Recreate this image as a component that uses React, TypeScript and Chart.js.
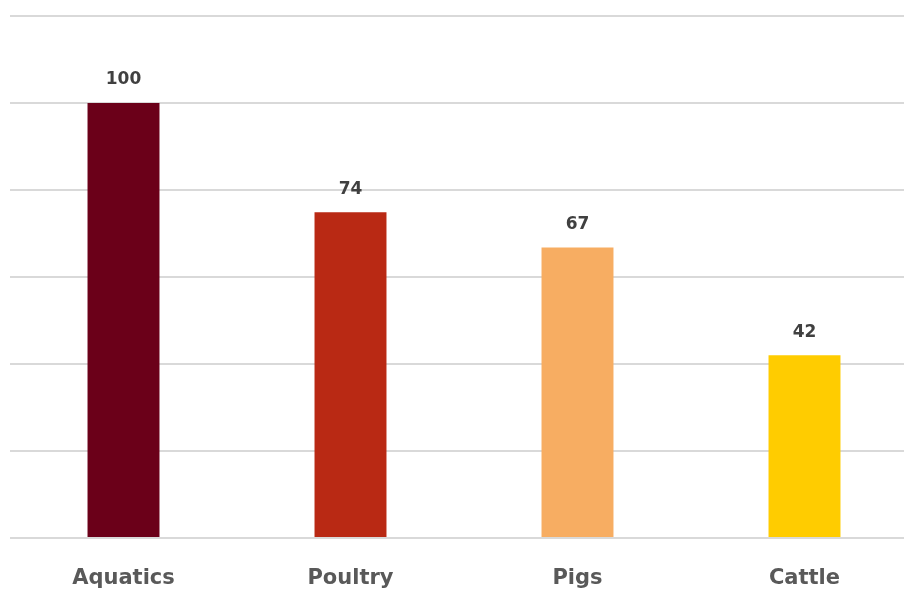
import React, { useEffect, useRef } from "react";
import { Chart, registerables } from "chart.js";

Chart.register(...registerables);

const categories = ["Aquatics", "Poultry", "Pigs", "Cattle"];
const values = [100, 74.9, 66.8, 42];
const valueLabels = ["100", "74", "67", "42"];
const barColors = ["#6b0019", "#b92914", "#f7ad62", "#ffcc00"];
const yTicks = [0, 20, 40, 60, 80, 100, 120];

const valueLabelPlugin = {
  id: "valueLabels",
  afterDatasetsDraw(chart: any) {
    const ctx = chart.ctx;
    const meta = chart.getDatasetMeta(0);
    ctx.save();
    ctx.fillStyle = "#404040";
    ctx.font = "bold 17px 'DejaVu Sans'";
    ctx.textAlign = "center";
    ctx.textBaseline = "middle";
    meta.data.forEach((bar: any, i: number) => {
      ctx.fillText(valueLabels[i], bar.x, bar.y - 23);
    });
    ctx.restore();
  },
};

export default function App() {
  const ref = useRef<HTMLCanvasElement>(null);
  useEffect(() => {
    if (!ref.current) return;
    const chart = new Chart(ref.current, {
      type: "bar",
      data: {
        labels: categories,
        datasets: [
          {
            data: values,
            backgroundColor: barColors,
            borderWidth: 0,
            barPercentage: 0.317,
            categoryPercentage: 1,
          },
        ],
      },
      options: {
        animation: false,
        responsive: false,
        maintainAspectRatio: false,
        layout: { padding: { left: 10, right: 0, top: 16, bottom: 0 } },
        plugins: { legend: { display: false }, tooltip: { enabled: false } },
        scales: {
          x: {
            grid: { display: false, drawTicks: false },
            border: { display: false },
            ticks: {
              color: "#595959",
              font: { family: "'DejaVu Sans'", size: 21, weight: "bold" },
              padding: 28,
            },
            afterFit: (s: any) => {
              s.height = 53;
            },
          },
          y: {
            min: 0,
            max: 120,
            afterBuildTicks: (s: any) => {
              s.ticks = yTicks.map((v) => ({ value: v }));
            },
            grid: { color: "#d9d9d9", lineWidth: 2, drawTicks: false },
            border: { display: false },
            ticks: { display: false },
            afterFit: (s: any) => {
              s.width = 0;
            },
          },
        },
      },
      plugins: [valueLabelPlugin],
    });
    return () => chart.destroy();
  }, []);
  return (
    <div
      style={{
        position: "fixed",
        left: 0,
        top: 0,
        width: 904,
        height: 591,
        overflow: "hidden",
        background: "#fff",
      }}
    >
      <canvas ref={ref} width={918} height={591} style={{ display: "block" }} />
    </div>
  );
}
